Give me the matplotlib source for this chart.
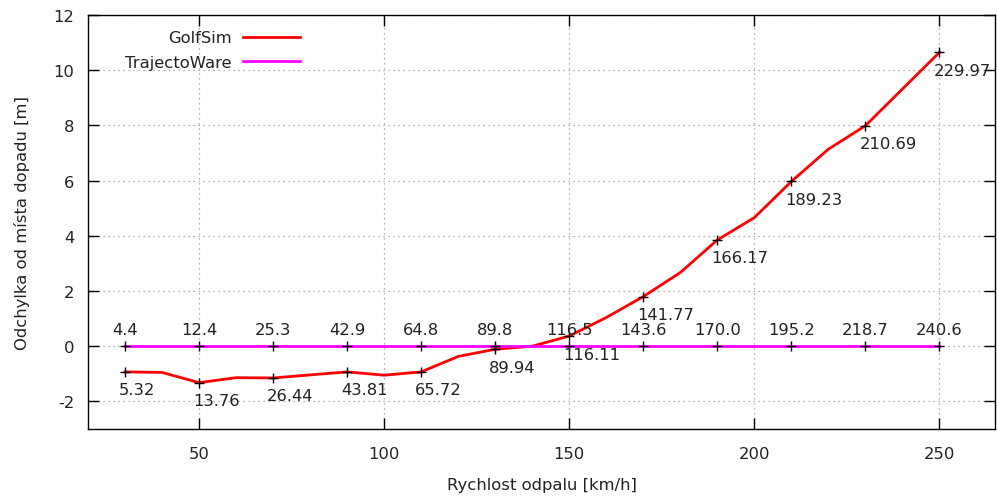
import matplotlib
matplotlib.use('Agg')
import matplotlib.pyplot as plt
from matplotlib.lines import Line2D

plt.rcParams['font.family'] = ['DejaVu Sans']
plt.rcParams['font.size'] = 11.8
plt.rcParams['axes.unicode_minus'] = False

# GolfSim deviation, sampled every 10 km/h
speed = [30, 40, 50, 60, 70, 80, 90, 100, 110, 120, 130, 140, 150, 160,
         170, 180, 190, 200, 210, 220, 230, 240, 250]
golfsim_dev = [-0.93, -0.95, -1.32, -1.14, -1.15, -1.04, -0.93, -1.05, -0.93, -0.37,
               -0.11, 0.0, 0.37, 1.04, 1.80, 2.67, 3.85, 4.66, 5.97, 7.14,
               7.99, 9.32, 10.65]

# TrajectoWare is the reference trajectory (zero deviation)
trajecto_dev = [0.0] * len(speed)

# labelled points (every 20 km/h): landing distances [m]
label_speed = [30, 50, 70, 90, 110, 130, 150, 170, 190, 210, 230, 250]
golfsim_dist = ['5.32', '13.76', '26.44', '43.81', '65.72', '89.94', '116.11',
                '141.77', '166.17', '189.23', '210.69', '229.97']
trajecto_dist = ['4.4', '12.4', '25.3', '42.9', '64.8', '89.8', '116.5',
                 '143.6', '170.0', '195.2', '218.7', '240.6']

fig = plt.figure(figsize=(9.97, 5.02), dpi=100)
ax = fig.add_axes([0.0883, 0.1434, 0.9097, 0.8247])

ax.plot(speed, golfsim_dev, color='#ff0000', lw=2, label='GolfSim', zorder=3)
ax.plot(speed, trajecto_dev, color='#ff00ff', lw=2, label='TrajectoWare', zorder=3)

gs_at = dict(zip(speed, golfsim_dev))
tw_at = dict(zip(speed, trajecto_dev))
gs_y = [gs_at[s] for s in label_speed]
tw_y = [tw_at[s] for s in label_speed]
ax.plot(label_speed, gs_y, ls='none', marker='+', ms=7.5, mew=1, color='black', zorder=4)
ax.plot(label_speed, tw_y, ls='none', marker='+', ms=7.5, mew=1, color='black', zorder=4)

for s, y, t in zip(label_speed, gs_y, golfsim_dist):
    ax.annotate(t, (s, y), xytext=(-6, -18), textcoords='offset pixels',
                ha='left', va='center', color='#222222', zorder=5)
for s, y, t in zip(label_speed, tw_y, trajecto_dist):
    ax.annotate(t, (s, y), xytext=(0, 17), textcoords='offset pixels',
                ha='center', va='center', color='#222222', zorder=5)

ax.set_xlim(20, 265)
ax.set_ylim(-3, 12)
ax.set_xticks([50, 100, 150, 200, 250])
ax.set_yticks(range(-2, 13, 2))
ax.grid(True, color='#999999', ls=(0, (1, 3)), lw=0.9)
ax.set_axisbelow(True)
ax.tick_params(direction='in', length=8, width=1, top=True, right=True,
               colors='black', labelcolor='#222222')
ax.tick_params(axis='x', pad=12)
ax.tick_params(axis='y', pad=10)
for sp in ax.spines.values():
    sp.set_linewidth(1)

ax.set_xlabel('Rychlost odpalu [km/h]', color='#222222', labelpad=12)
ax.set_ylabel('Odchylka od místa dopadu [m]', color='#222222', labelpad=17)

handles = [Line2D([], [], color='#ff0000', lw=2), Line2D([], [], color='#ff00ff', lw=2)]
ax.legend(handles, ['GolfSim', 'TrajectoWare'], loc='upper right',
          bbox_to_anchor=(0.2337, 0.963), borderaxespad=0, borderpad=0,
          frameon=False, markerfirst=False, handlelength=3.45,
          handletextpad=0.7, labelspacing=0.6, labelcolor='#222222')

fig.savefig('out.png', dpi=100)
